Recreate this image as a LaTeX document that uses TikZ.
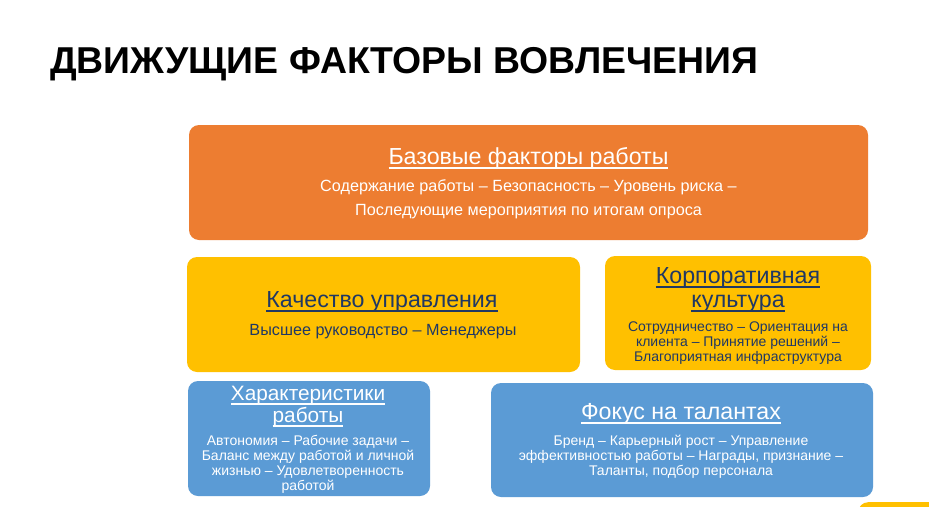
\documentclass[tikz,border=0pt]{standalone}
\usepackage{fontspec}
\setmainfont{Liberation Sans}
\definecolor{orbox}{HTML}{ED7D31}
\definecolor{yebox}{HTML}{FFC000}
\definecolor{blbox}{HTML}{5B9BD5}
\definecolor{navy}{HTML}{203864}
\newcommand{\ulx}[1]{\leavevmode\setbox0\hbox{#1}\rlap{\vrule height -3.2pt depth 4.8pt width \wd0}\box0}
\begin{document}
\begin{tikzpicture}[x=1pt,y=-1pt,
  box/.style={rectangle,rounded corners=10pt,inner sep=0pt,draw=none},
  ln/.style={anchor=base,inner sep=0pt},
  ttl/.style={ln,font=\fontsize{23.2}{27}\selectfont},
  bdy/.style={ln,font=\fontsize{16.2}{19}\selectfont},
  sbdy/.style={ln,font=\fontsize{14}{16}\selectfont}]
\useasboundingbox[fill=white] (0,0) rectangle (929,506);
% bottom-right decoration
\begin{scope}
\clip (0,0) rectangle (929,506);
\node[box,fill=yebox,minimum width=90pt,minimum height=30pt,anchor=north west] (deco) at (858,502) {};
\end{scope}
% title
\node[anchor=base west,inner sep=0pt,font=\bfseries\fontsize{37.4}{42}\selectfont] (title) at (50,73) {ДВИЖУЩИЕ ФАКТОРЫ ВОВЛЕЧЕНИЯ};
% boxes
\node[box,fill=orbox,minimum width=679pt,minimum height=115pt] (b1) at (528.5,182.5) {};
\node[box,fill=yebox,minimum width=393pt,minimum height=115pt] (b2) at (383.5,314.5) {};
\node[box,fill=yebox,minimum width=266pt,minimum height=114pt] (b3) at (738,313) {};
\node[box,fill=blbox,minimum width=242pt,minimum height=115pt] (b4) at (309,438.5) {};
\node[box,fill=blbox,minimum width=382pt,minimum height=114pt] (b5) at (682,440) {};
% box 1
\node[ttl,white] (b1t) at (528.5,164) {\ulx{Базовые факторы работы}};
\node[bdy,white] (b1a) at (528.5,191) {Содержание работы – Безопасность – Уровень риска –};
\node[bdy,white] (b1b) at (528.5,215) {Последующие мероприятия по итогам опроса};
% box 2
\node[ttl,navy] (b2t) at (382,307) {\ulx{Качество управления}};
\node[bdy,navy] (b2a) at (383,335) {Высшее руководство – Менеджеры};
% box 3
\node[ttl,navy] (b3t) at (738,283) {\ulx{Корпоративная}};
\node[ttl,navy] (b3u) at (738,307) {\ulx{культура}};
\node[sbdy,navy] (b3a) at (738,331) {Сотрудничество – Ориентация на};
\node[sbdy,navy] (b3b) at (738,346) {клиента – Принятие решений –};
\node[sbdy,navy] (b3c) at (738,361) {Благоприятная инфраструктура};
% box 4
\node[ttl,white,font=\fontsize{20.8}{24}\selectfont] (b4t) at (308,400) {\ulx{Характеристики}};
\node[ttl,white,font=\fontsize{20.8}{24}\selectfont] (b4u) at (308,422) {\ulx{работы}};
\node[sbdy,white] (b4a) at (308,445) {Автономия – Рабочие задачи –};
\node[sbdy,white] (b4b) at (308,460) {Баланс между работой и личной};
\node[sbdy,white] (b4c) at (308,475) {жизнью – Удовлетворенность};
\node[sbdy,white] (b4d) at (308,490) {работой};
% box 5
\node[ttl,white] (b5t) at (681,419) {\ulx{Фокус на талантах}};
\node[sbdy,white] (b5a) at (681,445) {Бренд – Карьерный рост – Управление};
\node[sbdy,white] (b5b) at (681,460) {эффективностью работы – Награды, признание –};
\node[sbdy,white] (b5c) at (681,475) {Таланты, подбор персонала};
\end{tikzpicture}
\end{document}
